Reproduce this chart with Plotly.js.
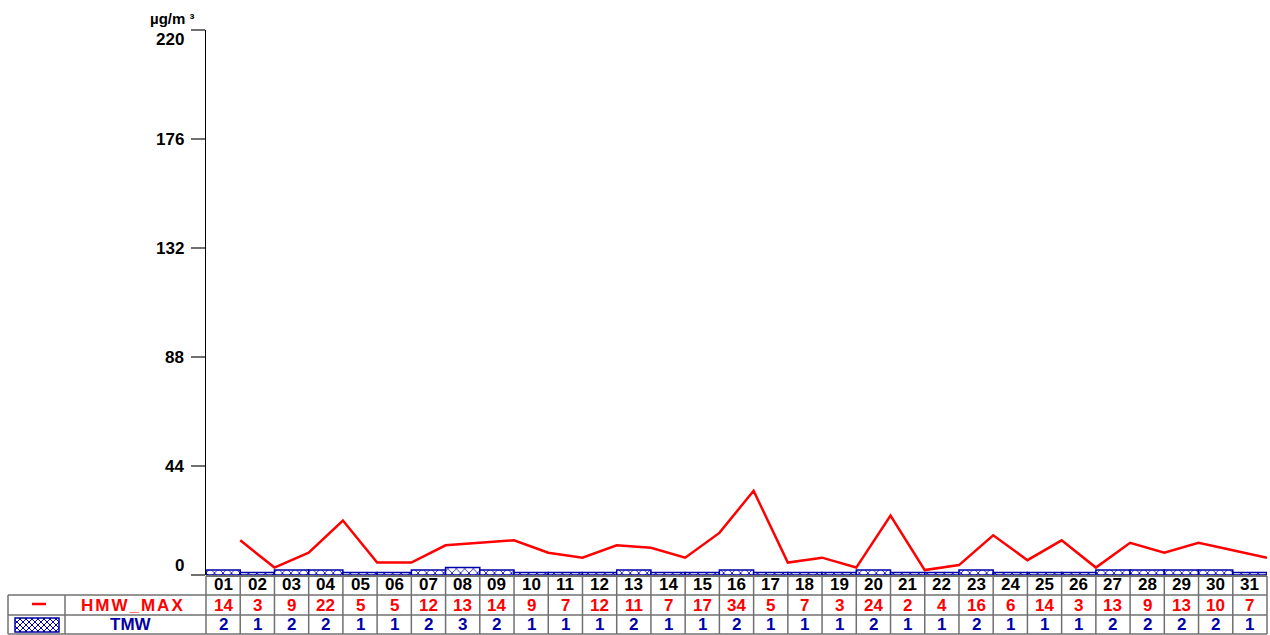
<!DOCTYPE html>
<html><head><meta charset="utf-8">
<script src="https://cdn.plot.ly/plotly-3.0.1.min.js"></script>
<style>body{margin:0;background:#fff}#chart{width:1270px;height:635px}</style>
</head><body><div id="chart"></div>
<script>
const days = ['01','02','03','04','05','06','07','08','09','10','11','12','13','14','15','16','17','18','19','20','21','22','23','24','25','26','27','28','29','30','31'];
const hmwMax = [14,3,9,22,5,5,12,13,14,9,7,12,11,7,17,34,5,7,3,24,2,4,16,6,14,3,13,9,13,10,7];
const tmw = [2,1,2,2,1,1,2,3,2,1,1,1,2,1,1,2,1,1,1,2,1,1,2,1,1,1,2,2,2,2,1];
const seriesNames = ['HMW_MAX','TMW'];
const yTicks = [0,44,88,132,176,220];
const unitLabel = 'µg/m ³';

const FONT = 'Liberation Sans, Arial, sans-serif';
const RED = '#FF0000', BLUE = '#0000A8', GRID = '#707070';
const L=206, R=1267, T=30, B=575;
const pw=R-L, ph=B-T;
const px = x => (x-L)/pw;
const py = y => (B-y)/ph;
const n = days.length;
const idx = days.map((d,i)=>i+1);

const traces = [
  {type:'bar', x: idx, y: tmw, width: 1, name: seriesNames[1],
   marker:{color:'#ffffff', line:{color:BLUE, width:1.5},
     pattern:{shape:'x', fgcolor:BLUE, bgcolor:'#ffffff', size:6, solidity:0.25}},
   hoverinfo:'skip'},
  {type:'scatter', mode:'lines', x: idx.map(i=>i+0.5), y: hmwMax, name: seriesNames[0],
   line:{color:RED, width:2.5}, hoverinfo:'skip'}
];

const shapes = [];
const ann = [];
function hline(x0,x1,y,c,w){shapes.push({type:'line',xref:'paper',yref:'paper',x0:px(x0),x1:px(x1),y0:py(y),y1:py(y),line:{color:c||GRID,width:w||1.5}});}
function vline(x,y0,y1,c,w){shapes.push({type:'line',xref:'paper',yref:'paper',x0:px(x),x1:px(x),y0:py(y0),y1:py(y1),line:{color:c||GRID,width:w||1.5}});}

// table grid
hline(L,R,576,'#404040',1.5);
hline(8,R,595); hline(8,R,615); hline(8,R,634);
vline(8,595,634); vline(65,595,634);
for(let k=0;k<=n;k++){ vline(L+k*pw/n,576,634); }

// legend symbols
shapes.push({type:'line',xref:'paper',yref:'paper',x0:px(32),x1:px(46),y0:py(604),y1:py(604),line:{color:RED,width:2.5}});
const rx0=15, rx1=59, ry0=618, ry1=632;
let d='';
const hh = ry1-ry0;
for(let s=rx0-hh; s<rx1; s+=6){
  let a0=s, b0=ry0, a1=s+hh, b1=ry1;
  let xs=Math.max(a0,rx0), ys=b0+(xs-a0); let xe=Math.min(a1,rx1), ye=b0+(xe-a0);
  if(xe>xs) d+=`M${px(xs)},${py(ys)}L${px(xe)},${py(ye)}`;
  xs=Math.max(a0,rx0); ys=b1-(xs-a0); xe=Math.min(a1,rx1); ye=b1-(xe-a0);
  if(xe>xs) d+=`M${px(xs)},${py(ys)}L${px(xe)},${py(ye)}`;
}
shapes.push({type:'path',xref:'paper',yref:'paper',path:d,line:{color:BLUE,width:1}});
shapes.push({type:'rect',xref:'paper',yref:'paper',x0:px(rx0),x1:px(rx1),y0:py(ry0),y1:py(ry1),line:{color:BLUE,width:1.5}});

const base = {showarrow:false, xanchor:'center', yanchor:'middle'};
// table text
days.forEach((dd,i)=>{
  ann.push({...base,xref:'x',yref:'paper',x:i+1,y:py(585),text:'<b>'+dd+'</b>',font:{family:FONT,size:17,color:'#000'}});
  ann.push({...base,xref:'x',yref:'paper',x:i+1,y:py(605),text:'<b>'+hmwMax[i]+'</b>',font:{family:FONT,size:17,color:RED}});
  ann.push({...base,xref:'x',yref:'paper',x:i+1,y:py(625),text:'<b>'+tmw[i]+'</b>',font:{family:FONT,size:17,color:BLUE}});
});
ann.push({...base,xref:'paper',yref:'paper',x:px(133),y:py(605),text:'<span style="letter-spacing:2px"><b>'+seriesNames[0]+'</b></span>',font:{family:FONT,size:17,color:RED}});
ann.push({...base,xref:'paper',yref:'paper',x:px(131),y:py(625),text:'<b>'+seriesNames[1]+'</b>',font:{family:FONT,size:17,color:BLUE}});
ann.push({...base,xref:'paper',yref:'paper',x:px(172),y:py(18),text:'<b>'+unitLabel+'</b>',font:{family:FONT,size:15,color:'#000'}});
// y tick labels
yTicks.forEach(v=>{
  const shift = v===yTicks[0] ? 10 : (v===yTicks[yTicks.length-1] ? -9 : 0);
  ann.push({showarrow:false, xanchor:'right', yanchor:'middle', xref:'paper', yref:'y', x:px(186), y:v, yshift:shift,
    text:'<b>'+v+'</b>', font:{family:FONT,size:17,color:'#000'}});
});

const layout = {
  width:1270, height:635, margin:{l:L,r:1270-R,t:T,b:635-B},
  paper_bgcolor:'#fff', plot_bgcolor:'#fff', showlegend:false, bargap:0,
  xaxis:{range:[0.5,n+0.5], showticklabels:false, showgrid:false, zeroline:false, showline:false, ticks:''},
  yaxis:{range:[0,220], tickvals:yTicks, showticklabels:false, ticks:'outside', ticklen:14, tickwidth:1.5, tickcolor:GRID,
    showline:true, linecolor:'#000', linewidth:1, showgrid:false, zeroline:false},
  shapes: shapes, annotations: ann
};
Plotly.newPlot('chart', traces, layout, {staticPlot:true});
</script></body></html>
